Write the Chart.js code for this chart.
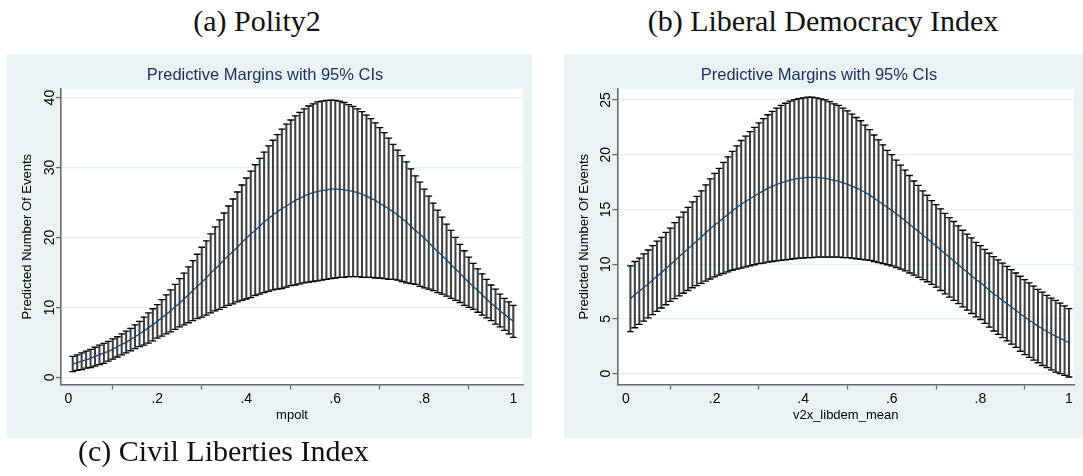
<!DOCTYPE html>
<html>
<head>
<meta charset="utf-8">
<script src="https://cdn.jsdelivr.net/npm/chart.js@4.4.1/dist/chart.umd.min.js"></script>
<style>
  html, body { margin: 0; padding: 0; background: #ffffff; }
  #page { position: relative; width: 1083px; height: 476px; overflow: hidden; }
  canvas { position: absolute; }
  #polityChart { left: 7px; top: 54px; }
  #libdemChart { left: 564px; top: 54px; }
  .caption {
    position: absolute; white-space: nowrap;
    font-family: "Liberation Serif", "Times New Roman", serif;
    font-size: 30px; line-height: 30px; color: #111;
  }
</style>
</head>
<body>
<div id="page">
  <div class="caption" id="cap-a" style="left:257px; top:6px; transform:translateX(-50%);">(a) Polity2</div>
  <div class="caption" id="cap-b" style="left:823px; top:6px; transform:translateX(-50%);">(b) Liberal Democracy Index</div>
  <canvas id="polityChart" width="525" height="384"></canvas>
  <canvas id="libdemChart" width="519" height="384"></canvas>
  <div class="caption" id="cap-c" style="left:78px; top:436px;">(c) Civil Liberties Index</div>
</div>
<script>
// --- DATA ---
const xValues = [
  0.01, 0.02, 0.03, 0.04, 0.05, 0.06, 0.07, 0.08, 0.09, 0.10,
  0.11, 0.12, 0.13, 0.14, 0.15, 0.16, 0.17, 0.18, 0.19, 0.20,
  0.21, 0.22, 0.23, 0.24, 0.25, 0.26, 0.27, 0.28, 0.29, 0.30,
  0.31, 0.32, 0.33, 0.34, 0.35, 0.36, 0.37, 0.38, 0.39, 0.40,
  0.41, 0.42, 0.43, 0.44, 0.45, 0.46, 0.47, 0.48, 0.49, 0.50,
  0.51, 0.52, 0.53, 0.54, 0.55, 0.56, 0.57, 0.58, 0.59, 0.60,
  0.61, 0.62, 0.63, 0.64, 0.65, 0.66, 0.67, 0.68, 0.69, 0.70,
  0.71, 0.72, 0.73, 0.74, 0.75, 0.76, 0.77, 0.78, 0.79, 0.80,
  0.81, 0.82, 0.83, 0.84, 0.85, 0.86, 0.87, 0.88, 0.89, 0.90,
  0.91, 0.92, 0.93, 0.94, 0.95, 0.96, 0.97, 0.98, 0.99, 1.00
];

// (a) Polity2 (mpolt)
const polityMean = [
  1.9, 2.1, 2.3, 2.5, 2.7, 3.0, 3.2, 3.5, 3.7, 4.0,
  4.4, 4.7, 5.0, 5.4, 5.8, 6.2, 6.6, 7.1, 7.5, 8.0,
  8.5, 9.0, 9.5, 10.1, 10.6, 11.2, 11.8, 12.4, 13.0, 13.6,
  14.2, 14.9, 15.5, 16.1, 16.8, 17.4, 18.0, 18.6, 19.3, 19.9,
  20.5, 21.0, 21.6, 22.2, 22.7, 23.2, 23.7, 24.1, 24.5, 24.9,
  25.3, 25.6, 25.9, 26.2, 26.4, 26.6, 26.7, 26.8, 26.9, 26.9,
  26.9, 26.8, 26.7, 26.6, 26.4, 26.2, 25.9, 25.6, 25.3, 24.9,
  24.5, 24.1, 23.7, 23.2, 22.7, 22.2, 21.6, 21.0, 20.5, 19.9,
  19.3, 18.6, 18.0, 17.4, 16.8, 16.1, 15.5, 14.9, 14.2, 13.6,
  13.0, 12.4, 11.8, 11.2, 10.6, 10.1, 9.5, 9.0, 8.5, 8.0
];
const polityUpper = [
  3.0, 3.2, 3.5, 3.75, 4.0, 4.3, 4.6, 4.85, 5.15, 5.5,
  5.8, 6.2, 6.6, 7.0, 7.5, 8.0, 8.6, 9.2, 9.8, 10.4,
  11.1, 11.8, 12.5, 13.3, 14.1, 14.9, 15.8, 16.7, 17.6, 18.6,
  19.5, 20.5, 21.5, 22.5, 23.5, 24.5, 25.5, 26.5, 27.5, 28.5,
  29.5, 30.4, 31.3, 32.2, 33.1, 33.9, 34.7, 35.5, 36.2, 36.8,
  37.4, 37.9, 38.4, 38.8, 39.1, 39.4, 39.5, 39.6, 39.65, 39.6,
  39.5, 39.3, 39.0, 38.75, 38.4, 38.0, 37.5, 37.0, 36.4, 35.7,
  35.0, 34.2, 33.3, 32.5, 31.7, 30.8, 29.8, 28.8, 27.9, 26.9,
  25.9, 24.9, 23.9, 22.9, 21.9, 21.0, 20.0, 19.0, 18.1, 17.2,
  16.3, 15.5, 14.8, 14.0, 13.2, 12.6, 11.9, 11.3, 10.8, 10.3
];
const polityLower = [
  0.8, 1.0, 1.1, 1.3, 1.4, 1.6, 1.8, 2.0, 2.3, 2.6,
  2.9, 3.2, 3.5, 3.8, 4.1, 4.4, 4.6, 4.9, 5.2, 5.6,
  5.9, 6.2, 6.5, 6.85, 7.2, 7.5, 7.8, 8.1, 8.4, 8.6,
  8.9, 9.2, 9.5, 9.7, 10.0, 10.3, 10.5, 10.8, 11.0, 11.2,
  11.4, 11.7, 11.9, 12.1, 12.3, 12.5, 12.6, 12.7, 12.9, 13.1,
  13.2, 13.35, 13.5, 13.6, 13.7, 13.8, 13.9, 14.0, 14.1, 14.2,
  14.3, 14.3, 14.4, 14.4, 14.4, 14.3, 14.3, 14.3, 14.2, 14.2,
  14.1, 14.0, 14.0, 13.9, 13.7, 13.5, 13.4, 13.3, 13.0, 12.8,
  12.6, 12.4, 12.1, 11.9, 11.6, 11.3, 11.0, 10.7, 10.3, 10.0,
  9.7, 9.3, 8.9, 8.5, 8.1, 7.6, 7.2, 6.7, 6.2, 5.7
];

// (b) Liberal Democracy Index (v2x_libdem_mean)
const libdemMean = [
  6.85, 7.23, 7.53, 7.88, 8.2, 8.55, 8.9, 9.23, 9.6, 9.95,
  10.33, 10.7, 11.05, 11.4, 11.78, 12.13, 12.48, 12.85, 13.23, 13.58,
  13.88, 14.23, 14.55, 14.88, 15.18, 15.48, 15.73, 15.98, 16.23, 16.48,
  16.7, 16.93, 17.1, 17.28, 17.43, 17.55, 17.68, 17.77, 17.84, 17.88,
  17.93, 17.93, 17.93, 17.88, 17.83, 17.75, 17.65, 17.58, 17.43, 17.3,
  17.13, 16.95, 16.78, 16.55, 16.33, 16.03, 15.75, 15.48, 15.18, 14.93,
  14.6, 14.3, 14.0, 13.65, 13.3, 13.0, 12.65, 12.35, 11.98, 11.68,
  11.33, 10.98, 10.63, 10.3, 9.95, 9.6, 9.28, 8.95, 8.6, 8.33,
  7.98, 7.63, 7.3, 7.0, 6.7, 6.4, 6.1, 5.8, 5.48, 5.18,
  4.9, 4.63, 4.35, 4.1, 3.85, 3.63, 3.43, 3.23, 3.03, 2.83
];
const libdemUpper = [
  9.85, 10.25, 10.55, 10.95, 11.3, 11.7, 12.1, 12.45, 12.9, 13.3,
  13.8, 14.3, 14.75, 15.2, 15.7, 16.2, 16.7, 17.25, 17.8, 18.3,
  18.75, 19.3, 19.8, 20.3, 20.8, 21.3, 21.7, 22.1, 22.5, 22.9,
  23.3, 23.65, 23.95, 24.25, 24.5, 24.7, 24.9, 25.03, 25.13, 25.2,
  25.25, 25.25, 25.2, 25.1, 25.0, 24.85, 24.65, 24.5, 24.25, 24.0,
  23.7, 23.4, 23.1, 22.7, 22.3, 21.8, 21.35, 20.9, 20.4, 20.0,
  19.5, 19.05, 18.6, 18.1, 17.6, 17.2, 16.7, 16.3, 15.8, 15.45,
  15.05, 14.65, 14.25, 13.9, 13.5, 13.1, 12.75, 12.4, 12.0, 11.7,
  11.35, 11.0, 10.7, 10.4, 10.1, 9.8, 9.5, 9.2, 8.9, 8.6,
  8.3, 8.0, 7.7, 7.45, 7.15, 6.9, 6.7, 6.45, 6.2, 5.95
];
const libdemLower = [
  3.85, 4.2, 4.5, 4.8, 5.1, 5.4, 5.7, 6.0, 6.3, 6.6,
  6.85, 7.1, 7.35, 7.6, 7.85, 8.05, 8.25, 8.45, 8.65, 8.85,
  9.0, 9.15, 9.3, 9.45, 9.55, 9.65, 9.75, 9.85, 9.95, 10.05,
  10.1, 10.2, 10.25, 10.3, 10.35, 10.4, 10.45, 10.5, 10.55, 10.55,
  10.6, 10.6, 10.65, 10.65, 10.65, 10.65, 10.65, 10.65, 10.6, 10.6,
  10.55, 10.5, 10.45, 10.4, 10.35, 10.25, 10.15, 10.05, 9.95, 9.85,
  9.7, 9.55, 9.4, 9.2, 9.0, 8.8, 8.6, 8.4, 8.15, 7.9,
  7.6, 7.3, 7.0, 6.7, 6.4, 6.1, 5.8, 5.5, 5.2, 4.95,
  4.6, 4.25, 3.9, 3.6, 3.3, 3.0, 2.7, 2.4, 2.05, 1.75,
  1.5, 1.25, 1.0, 0.75, 0.55, 0.35, 0.15, 0.0, -0.15, -0.3
];

// --- TICKS ---
const xTicks = [0, 0.2, 0.4, 0.6, 0.8, 1];
const xTickLabels = ['0', '.2', '.4', '.6', '.8', '1'];
const polityYTicks = [0, 10, 20, 30, 40];
const libdemYTicks = [0, 5, 10, 15, 20, 25];

// --- STYLE ---
const FONT = '"Liberation Sans", Arial, sans-serif';
const PANEL_BG = '#eaf2f3';
const GRID_COLOR = '#e6eef0';
const AXIS_COLOR = '#6a6a6a';
const TITLE_COLOR = '#1c2d5a';
const LINE_COLOR = '#1a476f';

// fills the graph region and the white plot region
const panelBackground = {
    id: 'panelBackground',
    beforeDraw(chart) {
        const { ctx, chartArea } = chart;
        ctx.save();
        ctx.fillStyle = PANEL_BG;
        ctx.fillRect(0, 0, chart.width, chart.height);
        ctx.fillStyle = '#ffffff';
        ctx.fillRect(chartArea.left, chartArea.top, chartArea.right - chartArea.left, chartArea.bottom - chartArea.top);
        ctx.restore();
    }
};

function buildPanel(canvasId, cfg) {
    const ctx = document.getElementById(canvasId).getContext('2d');
    const points = (values) => xValues.map((x, i) => ({ x: x, y: values[i] }));
    const capStyle = {
        type: 'scatter',
        pointStyle: 'line',
        pointRadius: 3.4,
        pointHoverRadius: 3.4,
        pointBorderColor: '#000000',
        pointBackgroundColor: '#000000',
        pointBorderWidth: 1.3,
        showLine: false,
        order: 1
    };

    return new Chart(ctx, {
        type: 'scatter',
        data: {
            datasets: [
                {
                    type: 'line',
                    data: points(cfg.mean),
                    borderColor: LINE_COLOR,
                    borderWidth: 1.3,
                    pointRadius: 0,
                    tension: 0,
                    fill: false,
                    order: 0
                },
                Object.assign({ data: points(cfg.upper) }, capStyle),
                Object.assign({ data: points(cfg.lower) }, capStyle),
                {
                    type: 'bar',
                    data: xValues.map((x, i) => ({ x: x, y: [cfg.lower[i], cfg.upper[i]] })),
                    backgroundColor: 'rgba(30, 30, 30, 0.85)',
                    barThickness: 1.4,
                    maxBarThickness: 1.4,
                    grouped: false,
                    order: 2
                }
            ]
        },
        options: {
            responsive: false,
            animation: false,
            devicePixelRatio: 1,
            layout: { padding: { left: 0, right: 9, top: 0, bottom: 0 } },
            plugins: {
                legend: { display: false },
                tooltip: { enabled: false },
                title: {
                    display: true,
                    text: 'Predictive Margins with 95% CIs',
                    color: TITLE_COLOR,
                    font: { family: FONT, size: 16.5, weight: 'normal' },
                    padding: { top: 12, bottom: cfg.titleGap }
                }
            },
            scales: {
                x: {
                    type: 'linear',
                    min: cfg.xMin,
                    max: cfg.xMax,
                    offset: false,
                    afterBuildTicks: (axis) => { axis.ticks = xTicks.map(v => ({ value: v })); },
                    afterFit: (axis) => { axis.height = cfg.xAxisHeight; },
                    ticks: {
                        callback: (value, index) => xTickLabels[index],
                        color: '#000000',
                        font: { family: FONT, size: 14 },
                        padding: 1,
                        maxRotation: 0,
                        autoSkip: false
                    },
                    grid: { drawOnChartArea: false, drawTicks: true, tickLength: 5, tickColor: AXIS_COLOR, tickWidth: 1.3 },
                    border: { display: true, color: AXIS_COLOR, width: 1.6 },
                    title: {
                        display: true,
                        text: cfg.xTitle,
                        color: '#000000',
                        font: { family: FONT, size: 13 },
                        padding: { top: 0, bottom: 15 }
                    }
                },
                y: {
                    type: 'linear',
                    min: cfg.yMin,
                    max: cfg.yMax,
                    afterBuildTicks: (axis) => { axis.ticks = cfg.yTicks.map(v => ({ value: v })); },
                    afterFit: (axis) => { axis.width = cfg.yAxisWidth; },
                    ticks: {
                        color: '#000000',
                        font: { family: FONT, size: 14 },
                        minRotation: 90,
                        maxRotation: 90,
                        crossAlign: 'center',
                        padding: -2
                    },
                    grid: { color: GRID_COLOR, lineWidth: 1.2, drawTicks: true, tickLength: 5, tickColor: AXIS_COLOR, tickWidth: 1.3 },
                    border: { display: true, color: AXIS_COLOR, width: 1.6 },
                    title: {
                        display: true,
                        text: 'Predicted Number Of Events',
                        color: '#000000',
                        font: { family: FONT, size: 13 },
                        padding: { top: 13, bottom: 0 }
                    }
                }
            }
        },
        plugins: [panelBackground]
    });
}

document.addEventListener('DOMContentLoaded', () => {
    buildPanel('polityChart', {
        mean: polityMean, upper: polityUpper, lower: polityLower,
        yTicks: polityYTicks, xTitle: 'mpolt',
        xMin: -0.0164, xMax: 1.0218, yMin: -1.03, yMax: 41.26,
        yAxisWidth: 54, xAxisHeight: 53.5, titleGap: 3
    });
    buildPanel('libdemChart', {
        mean: libdemMean, upper: libdemUpper, lower: libdemLower,
        yTicks: libdemYTicks, xTitle: 'v2x_libdem_mean',
        xMin: -0.0196, xMax: 1.0113, yMin: -0.985, yMax: 26.02,
        yAxisWidth: 53.3, xAxisHeight: 53.5, titleGap: 3
    });
});
</script>
</body>
</html>
